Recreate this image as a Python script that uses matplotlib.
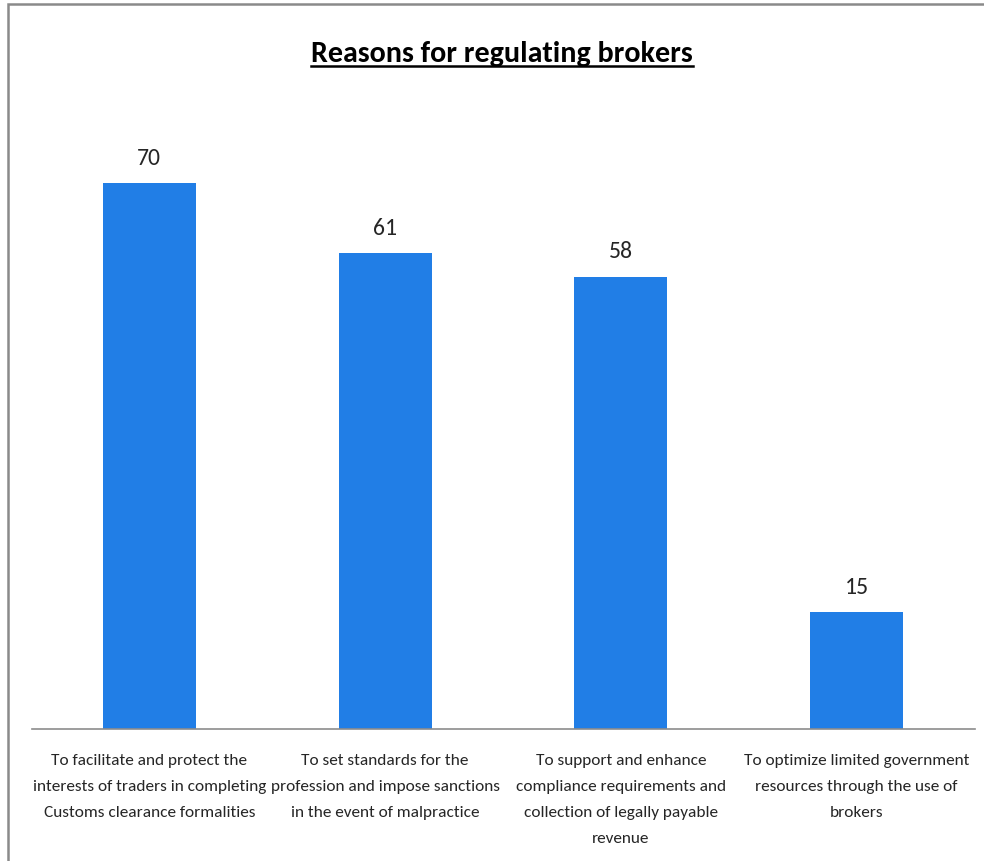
import matplotlib
matplotlib.use("Agg")
import matplotlib.pyplot as plt
from matplotlib.patches import Rectangle
from matplotlib.lines import Line2D

categories = [
    "To facilitate and protect the\ninterests of traders in completing\nCustoms clearance formalities",
    "To set standards for the\nprofession and impose sanctions\nin the event of malpractice",
    "To support and enhance\ncompliance requirements and\ncollection of legally payable\nrevenue",
    "To optimize limited government\nresources through the use of\nbrokers",
]
values = [70, 61, 58, 15]
title = "Reasons for regulating brokers"

plt.rcParams['font.family'] = ['Carlito', 'DejaVu Sans']

W, H = 984, 862
fig = plt.figure(figsize=(W / 100, H / 100), dpi=100)
ax = fig.add_axes([31.5 / W, 1 - 730 / H, 943 / W, 624 / H])

x = list(range(len(values)))
ax.bar(x, values, width=0.395, color='#217EE6', zorder=2)
ax.set_xlim(-0.5, len(values) - 0.5)
ax.set_ylim(0, 80)
for xi, v in zip(x, values):
    ax.annotate(str(v), (xi, v), xytext=(0, 11), textcoords='offset points',
                ha='center', va='bottom', fontsize=17, color='#262626')

for s in ['top', 'right', 'left']:
    ax.spines[s].set_visible(False)
ax.spines['bottom'].set_color('#8c8c8c')
ax.spines['bottom'].set_linewidth(1.2)
ax.set_yticks([])
ax.set_xticks(x)
ax.set_xticklabels(categories, fontsize=12.45, color='#262626')
for lab in ax.get_xticklabels():
    lab.set_linespacing(2.1)
ax.tick_params(axis='x', length=0, pad=17)

t = fig.text(502 / W, 1 - 54 / H, title, ha='center', va='center',
             fontsize=21.6, fontweight='bold', color='black')
fig.canvas.draw()
bb = t.get_window_extent()
uy = 1 - 67 / H
fig.add_artist(Line2D([bb.x0 / W, bb.x1 / W], [uy, uy], color='black', lw=1.8,
                      transform=fig.transFigure))

fig.add_artist(Rectangle((8 / W, -0.1), 1.2, 1 - 5 / H + 0.1, fill=False,
                         edgecolor='#8a8a8a', lw=1.8, transform=fig.transFigure))

fig.savefig('out.png', dpi=100)
